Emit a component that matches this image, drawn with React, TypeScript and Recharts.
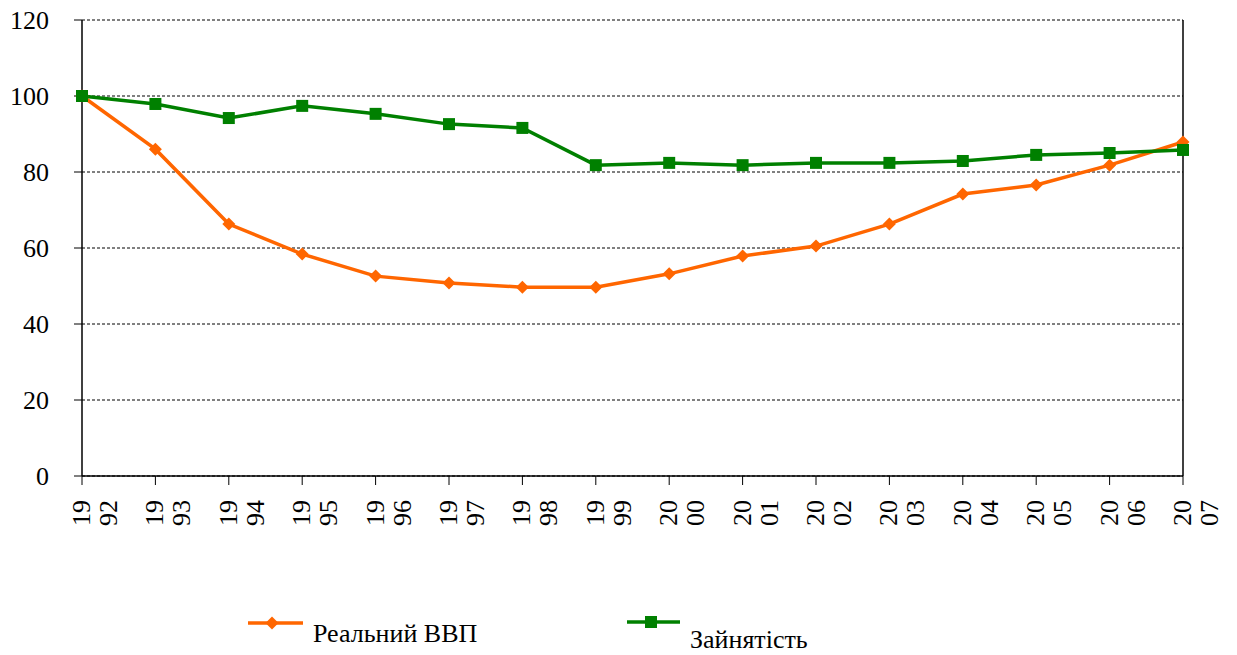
import {
  LineChart,
  Line,
  XAxis,
  YAxis,
  CartesianGrid,
  ReferenceLine,
} from 'recharts';

const years = [
  '1992', '1993', '1994', '1995', '1996', '1997', '1998', '1999',
  '2000', '2001', '2002', '2003', '2004', '2005', '2006', '2007',
];
const realGdp = [100, 86, 66.3, 58.4, 52.6, 50.8, 49.7, 49.7, 53.2, 57.9, 60.5, 66.3, 74.2, 76.6, 81.8, 87.9];
const employment = [100, 97.9, 94.2, 97.4, 95.3, 92.6, 91.6, 81.8, 82.4, 81.8, 82.4, 82.4, 82.9, 84.5, 85, 85.8];
const yTicks = [0, 20, 40, 60, 80, 100, 120];

const ORANGE = '#ff6600';
const GREEN = '#008000';
const FONT = '"Liberation Serif", "Times New Roman", serif';
const textStyle = { fontFamily: FONT, fontSize: 26 };

const data = years.map((y, i) => ({
  year: y,
  gdp: realGdp[i],
  emp: employment[i],
}));

function YearTick(props: any) {
  const { x, y, payload } = props;
  const s = String(payload.value);
  return (
    <g transform={`translate(${x}, ${y + 13}) rotate(-90)`}>
      <text textAnchor="end" style={textStyle} fill="#000">
        <tspan x={0} y={8}>{s.slice(0, 2)}</tspan>
        <tspan x={0} y={35}>{s.slice(2)}</tspan>
      </text>
    </g>
  );
}

function ValueTick(props: any) {
  const { x, y, payload } = props;
  return (
    <text x={x} y={y + 9} textAnchor="end" style={textStyle} fill="#000">
      {payload.value}
    </text>
  );
}

function Diamond(props: any) {
  const { cx, cy } = props;
  if (cx == null || cy == null) return null;
  const r = 6.5;
  return (
    <path
      d={`M${cx},${cy - r}L${cx + r},${cy}L${cx},${cy + r}L${cx - r},${cy}Z`}
      fill={ORANGE}
    />
  );
}

function Square(props: any) {
  const { cx, cy } = props;
  if (cx == null || cy == null) return null;
  const r = 6;
  return <rect x={cx - r} y={cy - r} width={2 * r} height={2 * r} fill={GREEN} />;
}

export default function App() {
  return (
    <div
      style={{
        position: 'absolute',
        left: 0,
        top: 0,
        width: 1237,
        height: 655,
        background: '#fff',
        fontFamily: FONT,
      }}
    >
      <LineChart
        width={1237}
        height={655}
        data={data}
        margin={{ top: 20, right: 54, bottom: 79, left: 0 }}
      >
        <CartesianGrid vertical={false} stroke="#000" strokeDasharray="3 2" />
        <XAxis
          dataKey="year"
          height={100}
          interval={0}
          tick={<YearTick />}
          tickSize={9}
          stroke="#000"
          axisLine={{ stroke: '#000', strokeWidth: 1.5 }}
        />
        <YAxis
          domain={[0, 120]}
          ticks={yTicks}
          width={82}
          tickSize={8}
          tickMargin={25}
          stroke="#000"
          axisLine={{ stroke: '#000', strokeWidth: 1.5 }}
          tick={<ValueTick />}
        />
        <ReferenceLine x="2007" stroke="#000" strokeWidth={1.5} />
        <Line
          dataKey="gdp"
          name="Реальний ВВП"
          stroke={ORANGE}
          strokeWidth={3.5}
          dot={<Diamond />}
          isAnimationActive={false}
        />
        <Line
          dataKey="emp"
          name="Зайнятість"
          stroke={GREEN}
          strokeWidth={3.5}
          dot={<Square />}
          isAnimationActive={false}
        />
      </LineChart>
      <svg
        width={1237}
        height={655}
        style={{ position: 'absolute', left: 0, top: 0, pointerEvents: 'none' }}
      >
        <line x1={248} y1={623} x2={303} y2={623} stroke={ORANGE} strokeWidth={3.5} />
        <Diamond cx={272} cy={623} />
        <text x={313} y={642} style={textStyle} fill="#000">
          Реальний ВВП
        </text>
        <line x1={627} y1={622} x2={680} y2={622} stroke={GREEN} strokeWidth={3.5} />
        <Square cx={651} cy={622} />
        <text x={690} y={648} style={textStyle} fill="#000">
          Зайнятість
        </text>
      </svg>
    </div>
  );
}
